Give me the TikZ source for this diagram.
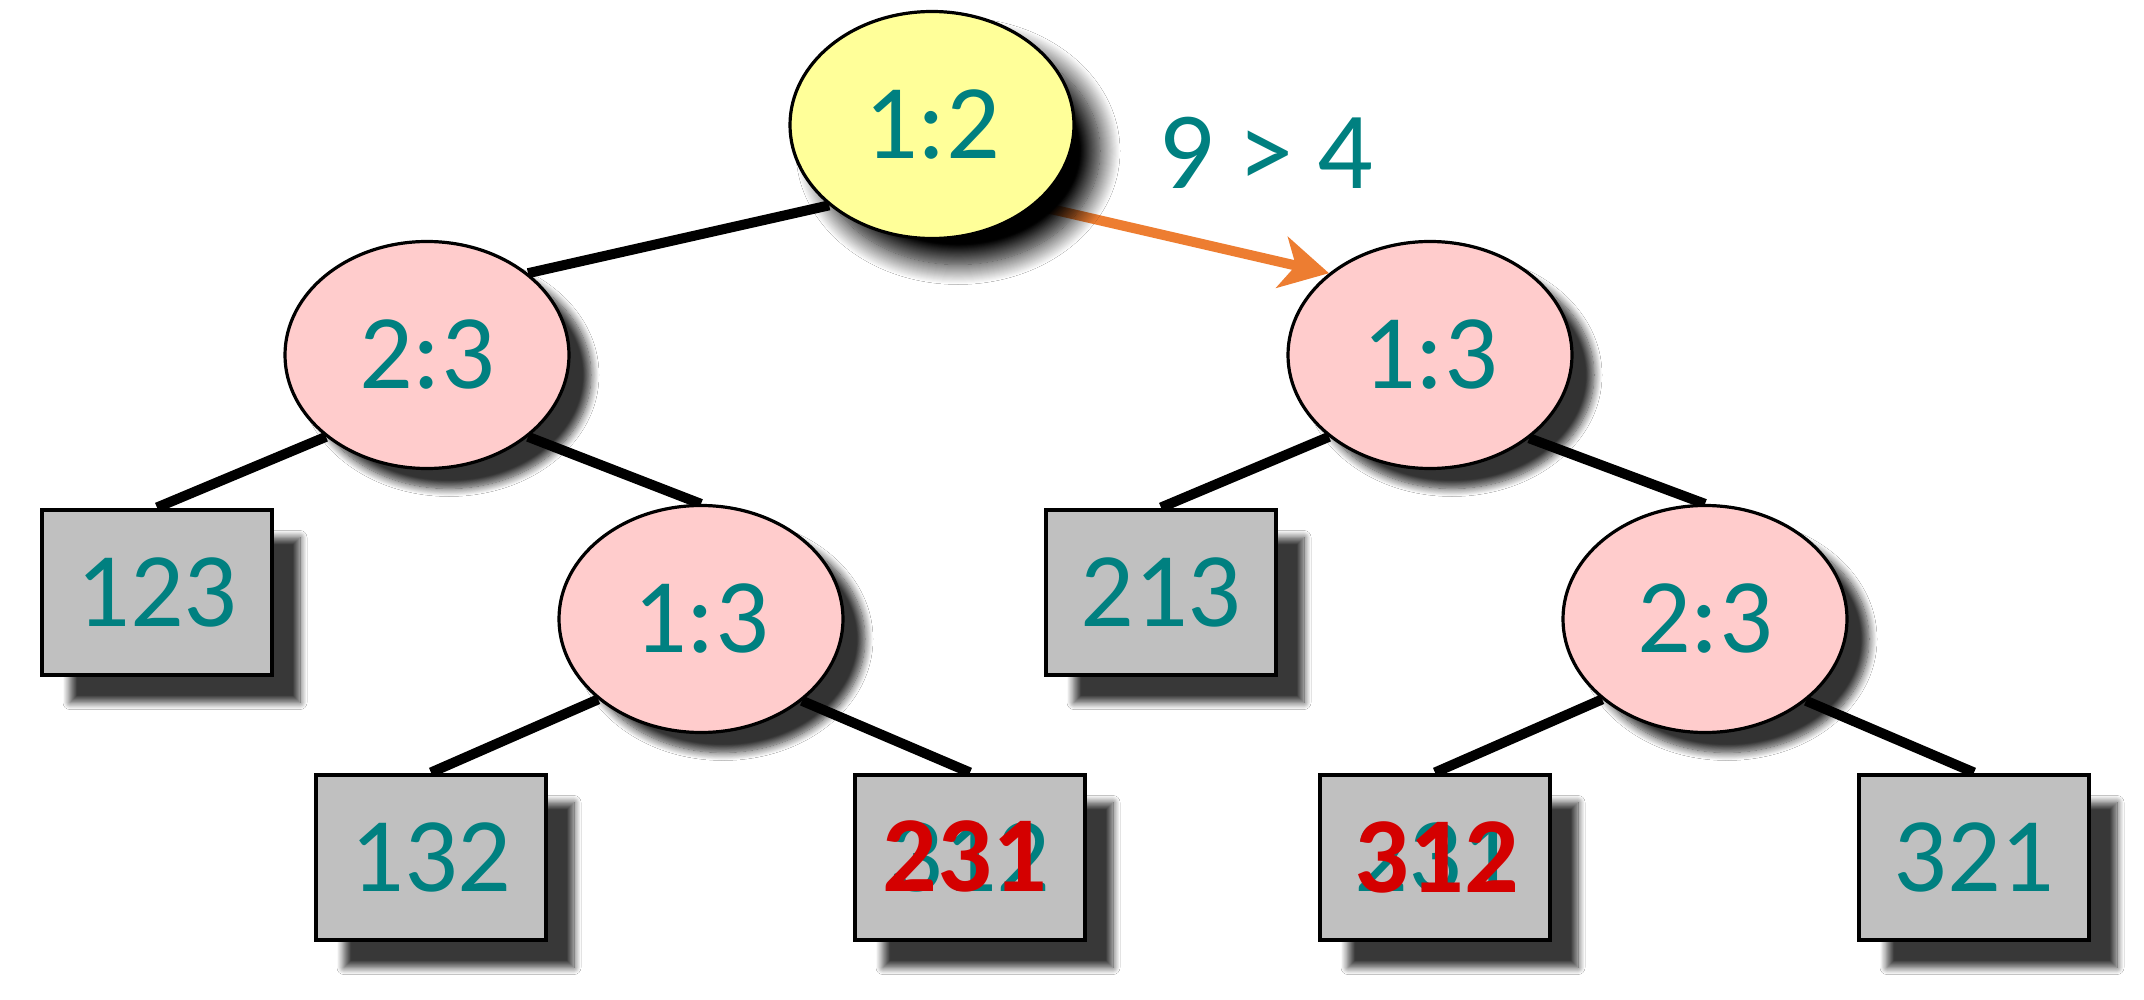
\documentclass[tikz,border=0pt]{standalone}
\usepackage{fontspec}
\setmainfont{Carlito}
\usetikzlibrary{shapes.geometric,shadows.blur,arrows.meta,backgrounds}
\definecolor{tealtext}{HTML}{008080}
\definecolor{rootfill}{HTML}{FFFF99}
\definecolor{cmpfill}{HTML}{FFCCCC}
\definecolor{leaffill}{HTML}{C0C0C0}
\definecolor{choice}{HTML}{ED7D31}
\definecolor{fixred}{HTML}{D40000}

\begin{document}
\begin{tikzpicture}[x=0.5pt,y=-0.5pt,
  numtext/.style={text=tealtext, font=\fontsize{53}{53}\selectfont},
  cmpbase/.style={ellipse, draw=black, line width=1.6pt, minimum width=142pt,
    minimum height=113.5pt, inner sep=0pt, numtext},
  cmp/.style={cmpbase, fill=cmpfill,
    blur shadow={shadow xshift=11pt, shadow yshift=-10pt,
      shadow blur radius=4pt, shadow blur steps=12, shadow opacity=80}},
  rootcmp/.style={cmpbase, fill=rootfill,
    blur shadow={shadow xshift=13pt, shadow yshift=-13pt,
      shadow blur radius=10pt, shadow blur steps=20, shadow opacity=100}},
  leaf/.style={rectangle, draw=black, line width=2pt, fill=leaffill,
    minimum width=115pt, minimum height=82.5pt, inner sep=0pt, numtext,
    blur shadow={shadow xshift=14pt, shadow yshift=-14pt,
      shadow blur radius=3.5pt, shadow blur steps=12, shadow opacity=78}},
  edge/.style={line width=5pt, draw=black},
  pick/.style={line width=5pt, draw=choice,
    -{Stealth[length=24pt,width=26pt,inset=7pt]}},
  fix/.style={text=fixred, font=\fontsize{54}{54}\selectfont\bfseries}
]
\path[use as bounding box] (0,0) rectangle (2144,1000);

% comparison nodes
\node[rootcmp] (root) at (932,125) {1:2};
\node[cmp] (L)  at (427,355)  {2:3};
\node[cmp] (R)  at (1430,355) {1:3};
\node[cmp] (LR) at (701,619)  {1:3};
\node[cmp] (RR) at (1705,619) {2:3};

% leaves
\node[leaf] (b123) at (157,592)  {123};
\node[leaf] (b213) at (1161,592) {213};
\node[leaf] (b132) at (431,857)  {132};
\node[leaf] (b312) at (970,857)  {312};
\node[leaf] (b231) at (1435,857) {231};
\node[leaf] (b321) at (1974,857) {321};

% corrected leaf labels written over the old ones
\node[fix] (f231) at (965,856)  {231};
\node[fix] (f312) at (1437,857) {312};

% comparison outcome
\node[numtext, font=\fontsize{55}{55}\selectfont] (cond) at (1266,153)
  {9\hspace{0.22em}>\hspace{0.22em}4};

\begin{pgfonlayer}{background}
  \fill[white] (0,0) rectangle (2144,1000);
  \draw[edge] (root.218) -- (L.39);
  \draw[edge] (L.219) -- (b123.north);
  \draw[edge] (L.321) -- (LR.north);
  \draw[edge] (R.219) -- (b213.north);
  \draw[edge] (R.320) -- (RR.north);
  \draw[edge] (LR.218) -- (b132.north);
  \draw[edge] (LR.321) -- (b312.north);
  \draw[edge] (RR.218) -- (b231.north);
  \draw[edge] (RR.321) -- (b321.north);
  \draw[pick] (root.322) -- (R.141);
\end{pgfonlayer}
\end{tikzpicture}
\end{document}
